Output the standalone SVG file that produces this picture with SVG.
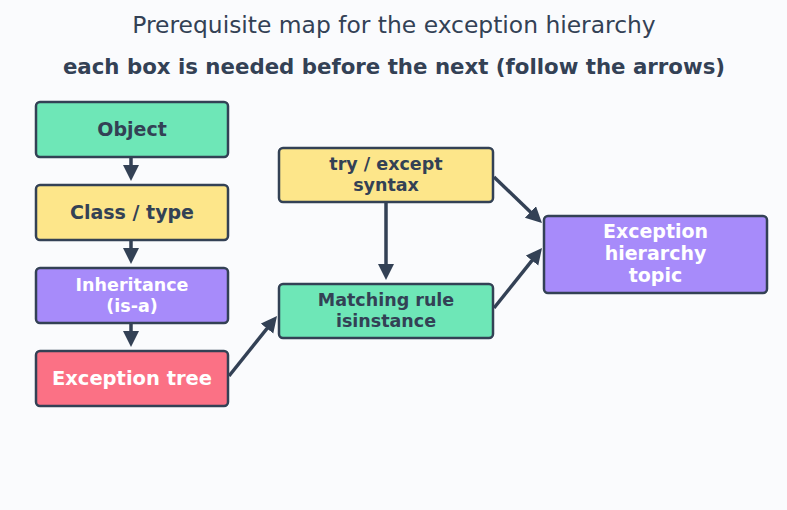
<svg xmlns="http://www.w3.org/2000/svg" width="787" height="510" viewBox="0 0 787 510">
<style>
.box{stroke:#334155;stroke-width:2.5}
.t{font-family:"DejaVu Sans",sans-serif;font-weight:bold;text-anchor:middle}
.dk{fill:#334155}
.wt{fill:#ffffff}
.c{stroke:#334155;stroke-width:3.5;fill:none;marker-end:url(#ah)}
.green{fill:#6ee7b7}.yellow{fill:#fde68a}.purple{fill:#a78bfa}.red{fill:#fb7185}
</style>
<defs>
<marker id="ah" markerUnits="userSpaceOnUse" markerWidth="18" markerHeight="18" refX="4" refY="8" orient="auto">
<path d="M0,0 L16,8 L0,16 Z" fill="#334155"/>
</marker>
</defs>
<rect width="787" height="510" fill="#fafbfd"/>
<text x="394" y="33" font-family="DejaVu Sans, sans-serif" font-size="23.4" fill="#334155" text-anchor="middle">Prerequisite map for the exception hierarchy</text>
<text x="394" y="74" class="t dk" font-size="21.3">each box is needed before the next (follow the arrows)</text>
<g id="connectors">
<line class="c" x1="131" y1="158" x2="131" y2="169"/>
<line class="c" x1="131" y1="241" x2="131" y2="252"/>
<line class="c" x1="131" y1="324" x2="131" y2="335"/>
<line class="c" x1="229" y1="376" x2="269.5" y2="325.4"/>
<line class="c" x1="386" y1="203" x2="386" y2="268"/>
<line class="c" x1="494" y1="177" x2="533.3" y2="214.7"/>
<line class="c" x1="494" y1="308" x2="534.5" y2="257.4"/>
</g>
<g id="object">
<rect class="box green" x="36" y="102" width="192" height="55" rx="4"/>
<text class="t dk" x="132" y="136" font-size="19">Object</text>
</g>
<g id="class">
<rect class="box yellow" x="36" y="185" width="192" height="55" rx="4"/>
<text class="t dk" x="132" y="219" font-size="19">Class / type</text>
</g>
<g id="inheritance">
<rect class="box purple" x="36" y="268" width="192" height="55" rx="4"/>
<text class="t wt" x="132" y="291" font-size="17.5">Inheritance</text>
<text class="t wt" x="132" y="312" font-size="17.5">(is-a)</text>
</g>
<g id="exctree">
<rect class="box red" x="36" y="351" width="192" height="55" rx="4"/>
<text class="t wt" x="132" y="385" font-size="19.5">Exception tree</text>
</g>
<g id="tryexcept">
<rect class="box yellow" x="279" y="148" width="214" height="54" rx="4"/>
<text class="t dk" x="386" y="170" font-size="17.5">try / except</text>
<text class="t dk" x="386" y="191" font-size="17.5">syntax</text>
</g>
<g id="matching">
<rect class="box green" x="279" y="284" width="214" height="54" rx="4"/>
<text class="t dk" x="386" y="306" font-size="17.5">Matching rule</text>
<text class="t dk" x="386" y="327" font-size="17.5">isinstance</text>
</g>
<g id="topic">
<rect class="box purple" x="544" y="216" width="223" height="77" rx="4"/>
<text class="t wt" x="655.5" y="238" font-size="19">Exception</text>
<text class="t wt" x="655.5" y="260" font-size="19">hierarchy</text>
<text class="t wt" x="655.5" y="282" font-size="19">topic</text>
</g>
</svg>
